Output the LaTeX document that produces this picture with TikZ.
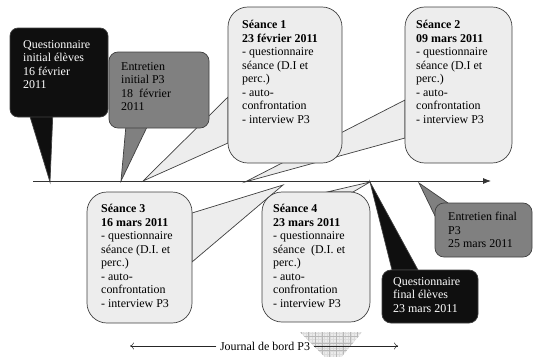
\documentclass[tikz,border=0pt]{standalone}
\usepackage{fontspec}
\setmainfont{Liberation Serif}
\usetikzlibrary{arrows.meta}
\tikzset{
  bubble/.style={draw=black!75, line width=0.7pt, rounded corners=#1},
  pointer/.style={draw=black!75, line width=0.7pt, line join=miter},
  light/.style={fill=black!7},
  grey/.style={fill=black!50},
  dark/.style={fill=black!94},
  txt/.style={anchor=north west, inner sep=0pt, align=left,
    font=\fontsize{12}{13.6}\selectfont},
}
\begin{document}
\begin{tikzpicture}[x=1bp,y=-1bp]
\useasboundingbox (0,0) rectangle (533,356);

% tips of the bubbles on the time line
\coordinate (tqi) at (50,182);
\coordinate (tei) at (121,181);
\coordinate (ts1) at (143,181);
\coordinate (ts2) at (245,182);
\coordinate (ts3) at (283,185);
\coordinate (ts4) at (370,182);
\coordinate (tqf) at (370,182);
\coordinate (tef) at (419,183);
\coordinate (a0) at (33,181);
\coordinate (a1) at (491,181);

% hatched mark under the journal
\begin{scope}
\clip (300,332) -- (362,332) -- (334,366) -- cycle;
\fill[black!8] (295,328) rectangle (366,360);
\draw[black!14, step=3bp, line width=0.2pt] (294,327) grid (366,360);
\draw[black!28, step=7bp, line width=0.3pt] (294,327) grid (366,360);
\end{scope}

% pointers (behind the boxes)
\path[pointer, light] (405,100) -- (ts2) -- (405,138) -- cycle;
\path[pointer, light] (228,97) -- (ts1) -- (228,143) -- cycle;
\path[pointer, dark] (28,110) -- (tqi) -- (53,110) -- cycle;
\path[pointer, grey] (126,125) -- (tei) -- (148,125) -- cycle;
\path[pointer, light] (192,213) -- (ts3) -- (192,262) -- cycle;
\path[pointer, light] (327,192) -- (ts4) -- (353,192) -- cycle;
\path[pointer, grey] (448,203) -- (tef) -- (435,216) -- (448,216) -- cycle;
\path[pointer, dark] (392,270) -- (tqf) -- (418,270) -- cycle;

% time line
\draw[black!80, line width=0.8pt, -{Latex[length=8pt,width=6pt]}] (a0) -- (a1);

% boxes
\path[bubble=8pt, dark] (10,28) rectangle (108,117);
\path[bubble=9pt, grey] (109,52) rectangle (209,128);
\path[bubble=20pt, light] (228,7) rectangle (342,163);
\path[bubble=20pt, light] (405,7) rectangle (512,163);
\path[bubble=20pt, light] (87,192) rectangle (192,323);
\path[bubble=20pt, light] (262,192) rectangle (370,322);
\path[bubble=9pt, grey] (435,203) rectangle (532,257);
\path[bubble=9pt, dark] (382,270) rectangle (478,323);

% texts
\node[txt, text=white] (qi) at (23,40)
  {Questionnaire\\initial élèves\\16 février\\2011};
\node[txt] (ei) at (121,62)
  {Entretien\\initial P3\\18\ \ février\\2011};
\node[txt] (s1) at (242,20)
  {\textbf{Séance 1}\\\textbf{23 février 2011}\\- questionnaire\\séance (D.I et\\perc.)\\- auto-\\confrontation\\- interview P3};
\node[txt] (s2) at (416,20)
  {\textbf{Séance 2}\\\textbf{09 mars 2011}\\- questionnaire\\séance (D.I et\\perc.)\\- auto-\\confrontation\\- interview P3};
\node[txt] (s3) at (101,204)
  {\textbf{Séance 3}\\\textbf{16 mars 2011}\\- questionnaire\\séance (D.I. et\\perc.)\\- auto-\\confrontation\\- interview P3};
\node[txt] (s4) at (273,204)
  {\textbf{Séance 4}\\\textbf{23 mars 2011}\\- questionnaire\\séance\ \ (D.I. et\\perc.)\\- auto-\\confrontation\\- interview P3};
\node[txt] (ef) at (448,212)
  {Entretien final\\P3\\25 mars 2011};
\node[txt, text=white] (qf) at (393,277)
  {Questionnaire\\final élèves\\23 mars 2011};

% journal de bord
\node[font=\fontsize{12}{14}\selectfont] (jour) at (265,346) {Journal de bord P3};
\coordinate (jl) at (130,346);
\coordinate (jr) at (398,346);
\draw[black!85, line width=0.5pt, -{To[length=4pt,width=7pt]}] (jour.west) -- (jl);
\draw[black!85, line width=0.5pt, -{To[length=4pt,width=7pt]}] (jour.east) -- (jr);
\end{tikzpicture}
\end{document}
